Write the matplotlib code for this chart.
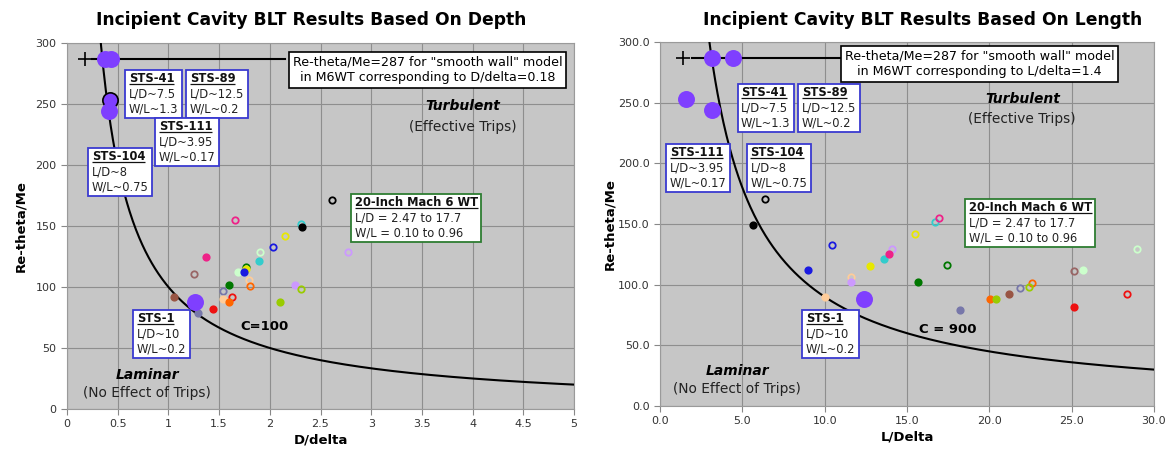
import numpy as np
import matplotlib
matplotlib.use('Agg')
import matplotlib.pyplot as plt
from matplotlib.patches import Rectangle
from matplotlib.transforms import Bbox

plt.rcParams['font.family'] = ['DejaVu Sans']

# 20-Inch Mach 6 WT runs: colour, filled?, Re-theta/Me, D/delta, L/delta
wt_colors = ['#000000', '#33cccc', '#000000', '#e8e800', '#1a1ae0', '#cc99ff', '#ee2288',
             '#ccffcc', '#33cccc', '#ee2288', '#007700', '#e8e800', '#ccffcc', '#1a1ae0',
             '#996666', '#ffcc99', '#ff6600', '#007700', '#7777aa', '#cc99ff', '#99cc00',
             '#ee1111', '#ffcc99', '#ff6600', '#99cc00', '#ee1111', '#7777aa', '#995544']
wt_filled = [False, False, True, False, False, False, False,
             False, True, True, False, True, True, True,
             False, False, False, True, False, True, False,
             False, True, True, True, True, True, True]
wt_re = [171, 152, 149, 142, 133, 129, 155,
         129, 121, 125, 116, 115, 112, 112,
         111, 106, 101, 102, 97, 102, 98,
         92, 90, 88, 88, 82, 79, 92]
wt_d_delta = [2.61, 2.31, 2.32, 2.15, 2.03, 2.77, 1.66,
              1.90, 1.89, 1.37, 1.77, 1.77, 1.69, 1.75,
              1.25, 1.79, 1.80, 1.60, 1.54, 2.25, 2.31,
              1.63, 1.54, 1.60, 2.10, 1.44, 1.29, 1.06]
wt_l_delta = [6.35, 16.7, 5.65, 15.5, 10.45, 14.1, 16.94,
              28.98, 13.6, 13.9, 17.4, 12.75, 25.67, 9.0,
              25.15, 11.6, 22.6, 15.65, 21.87, 11.6, 22.4,
              28.35, 10.0, 20.05, 20.4, 25.14, 18.2, 21.2]

# Shuttle flights (big purple dots)
sts_re = [287, 287, 253, 244, 88]
sts_d_delta = [0.37, 0.43, 0.42, 0.41, 1.26]
sts_l_delta = [3.13, 4.43, 1.57, 3.17, 12.36]

smooth_re = 287
smooth_d_delta = 0.18
smooth_l_delta = 1.4

c_depth = 100
c_length = 900

BG = '#c6c6c6'
GRID = '#8e8e8e'
PURPLE = '#7f3fff'
BLUE_EDGE = '#3a3ad0'
GREEN_EDGE = '#2e7d32'

fig = plt.figure(figsize=(11.65, 4.51), dpi=100)
ax1 = fig.add_axes([67 / 1165, 1 - 409 / 451, 507 / 1165, 366 / 451])
ax2 = fig.add_axes([660 / 1165, 1 - 406 / 451, 494 / 1165, 364 / 451])

boxes = []


def note_box(ax, x, y, title, body, edge, fs=8.3):
    t1 = ax.text(x, y, title, fontsize=fs, fontweight='bold', va='top', ha='left',
                 color='#111111', zorder=7)
    t2 = ax.annotate(body, xy=(x, y), xytext=(0, -fs * 1.3), textcoords='offset points',
                     fontsize=fs, va='top', ha='left', color='#222222', zorder=7,
                     linespacing=1.2)
    boxes.append((ax, t1, t2, edge))


def style_axes(ax, xmax, xstep, fmt_x, fmt_y, xlabel, ypad):
    ax.set_facecolor(BG)
    ax.set_xlim(0, xmax)
    ax.set_ylim(0, 300)
    ax.set_xticks(np.arange(0, xmax + xstep / 2, xstep))
    ax.set_yticks(np.arange(0, 301, 50))
    ax.set_xticklabels([fmt_x % v for v in ax.get_xticks()])
    ax.set_yticklabels([fmt_y % v for v in ax.get_yticks()])
    ax.grid(True, color=GRID, lw=0.8)
    ax.set_axisbelow(True)
    for s in ax.spines.values():
        s.set_color('#9a9a9a')
    ax.tick_params(colors='#888888', labelcolor='#333333', labelsize=8, length=4,
                   direction='out')
    ax.set_xlabel(xlabel, fontsize=9.5, fontweight='bold', labelpad=3)
    ax.set_ylabel('Re-theta/Me', fontsize=9.5, fontweight='bold', labelpad=ypad)


def draw_panel(ax, x_wt, x_sts, x_smooth, c, xmax, sts_edges):
    xs = np.linspace(c / 320.0, xmax, 600)
    ax.plot(xs, c / xs, color='black', lw=1.5, zorder=3)
    for col, fill, xv, yv in zip(wt_colors, wt_filled, x_wt, wt_re):
        ax.plot(xv, yv, 'o', ms=4.6, mec=col, mfc=col if fill else 'none',
                mew=1.3, zorder=4)
    for xv, yv, ec in zip(x_sts, sts_re, sts_edges):
        ax.plot(xv, yv, 'o', ms=11, mfc=PURPLE, mec=ec, mew=1.2, zorder=4)
    ax.plot(x_smooth, smooth_re, '+', ms=10, mew=1.2, color='black', zorder=5)


style_axes(ax1, 5, 0.5, '%g', '%g', 'D/delta', 6)
style_axes(ax2, 30, 5, '%.1f', '%.1f', 'L/Delta', 1)

draw_panel(ax1, wt_d_delta, sts_d_delta, smooth_d_delta, c_depth, 5,
           [PURPLE, PURPLE, 'black', PURPLE, PURPLE])
draw_panel(ax2, wt_l_delta, sts_l_delta, smooth_l_delta, c_length, 30,
           [PURPLE] * 5)

# smooth wall reference lines and boxes
ax1.plot([0.25, 2.15], [smooth_re, smooth_re], color='black', lw=1.5, zorder=3)
ax2.plot([1.95, 11.0], [smooth_re, smooth_re], color='black', lw=1.5, zorder=3)
ax1.text(3.555, 278, 'Re-theta/Me=287 for "smooth wall" model\nin M6WT corresponding to D/delta=0.18',
         ha='center', va='center', fontsize=9.1, linespacing=1.25, zorder=7,
         bbox=dict(boxstyle='square,pad=0.28', fc='white', ec='black', lw=1.2))
ax2.text(19.4, 282, 'Re-theta/Me=287 for "smooth wall" model\nin M6WT corresponding to L/delta=1.4',
         ha='center', va='center', fontsize=9.1, linespacing=1.25, zorder=7,
         bbox=dict(boxstyle='square,pad=0.28', fc='white', ec='black', lw=1.2))

# region labels
for ax, tx, ty, lx, ly, cx, cy, ctext in [
        (ax1, 3.905, 248, 0.79, 28, 1.95, 67.5, 'C=100'),
        (ax2, 22.0, 253, 4.69, 29, 17.48, 62.7, 'C = 900')]:
    ax.text(tx, ty, 'Turbulent', ha='center', va='center', fontsize=10,
            fontweight='bold', style='italic')
    ax.text(tx, ty - 16.5, '(Effective Trips)', ha='center', va='center', fontsize=9.9,
            color='#222222')
    ax.text(lx, ly, 'Laminar', ha='center', va='center', fontsize=10,
            fontweight='bold', style='italic')
    ax.text(lx, ly - 15, '(No Effect of Trips)',
            ha='center', va='center', fontsize=9.9, color='#222222')
    ax.text(cx, cy, ctext, ha='center', va='center', fontsize=9.5, fontweight='bold')

# flight / tunnel note boxes
note_box(ax1, 0.611, 276, 'STS-41', 'L/D~7.5\nW/L~1.3', BLUE_EDGE)
note_box(ax1, 1.21, 276, 'STS-89', 'L/D~12.5\nW/L~0.2', BLUE_EDGE)
note_box(ax1, 0.907, 236.6, 'STS-111', 'L/D~3.95\nW/L~0.17', BLUE_EDGE)
note_box(ax1, 0.244, 212, 'STS-104', 'L/D~8\nW/L~0.75', BLUE_EDGE)
note_box(ax1, 0.687, 79.3, 'STS-1', 'L/D~10\nW/L~0.2', BLUE_EDGE)
note_box(ax1, 2.837, 174.3, '20-Inch Mach 6 WT', 'L/D = 2.47 to 17.7\nW/L = 0.10 to 0.96', GREEN_EDGE)

note_box(ax2, 4.92, 263.6, 'STS-41', 'L/D~7.5\nW/L~1.3', BLUE_EDGE)
note_box(ax2, 8.61, 263.6, 'STS-89', 'L/D~12.5\nW/L~0.2', BLUE_EDGE)
note_box(ax2, 0.587, 214.1, 'STS-111', 'L/D~3.95\nW/L~0.17', BLUE_EDGE)
note_box(ax2, 5.49, 214.1, 'STS-104', 'L/D~8\nW/L~0.75', BLUE_EDGE)
note_box(ax2, 8.85, 77.2, 'STS-1', 'L/D~10\nW/L~0.2', BLUE_EDGE)
note_box(ax2, 18.75, 168.8, '20-Inch Mach 6 WT', 'L/D = 2.47 to 17.7\nW/L = 0.10 to 0.96', GREEN_EDGE)

fig.text(311 / 1165, 1 - 20 / 451, 'Incipient Cavity BLT Results Based On Depth',
         ha='center', va='center', fontsize=12.3, fontweight='bold')
fig.text(923 / 1165, 1 - 20 / 451, 'Incipient Cavity BLT Results Based On Length',
         ha='center', va='center', fontsize=12.3, fontweight='bold')

fig.canvas.draw()
r = fig.canvas.get_renderer()
for ax, t1, t2, edge in boxes:
    b1 = t1.get_window_extent(r)
    b2 = t2.get_window_extent(r)
    bb = Bbox.union([b1, b2])
    inv = ax.transData.inverted()
    (x0, y0), (x1, y1) = inv.transform([[bb.x0 - 3.5, bb.y0 - 3], [bb.x1 + 3.5, bb.y1 + 2.5]])
    ax.add_patch(Rectangle((x0, y0), x1 - x0, y1 - y0, fc='white', ec=edge,
                           lw=1.3, zorder=6, clip_on=False))
    (ux0, uy), (ux1, _) = inv.transform([[b1.x0, b1.y0 + 1.5], [b1.x1, b1.y0 + 1.5]])
    ax.plot([ux0, ux1], [uy, uy], color='#111111', lw=0.9, zorder=8,
            solid_capstyle='butt')

fig.savefig('out.png', dpi=100)
